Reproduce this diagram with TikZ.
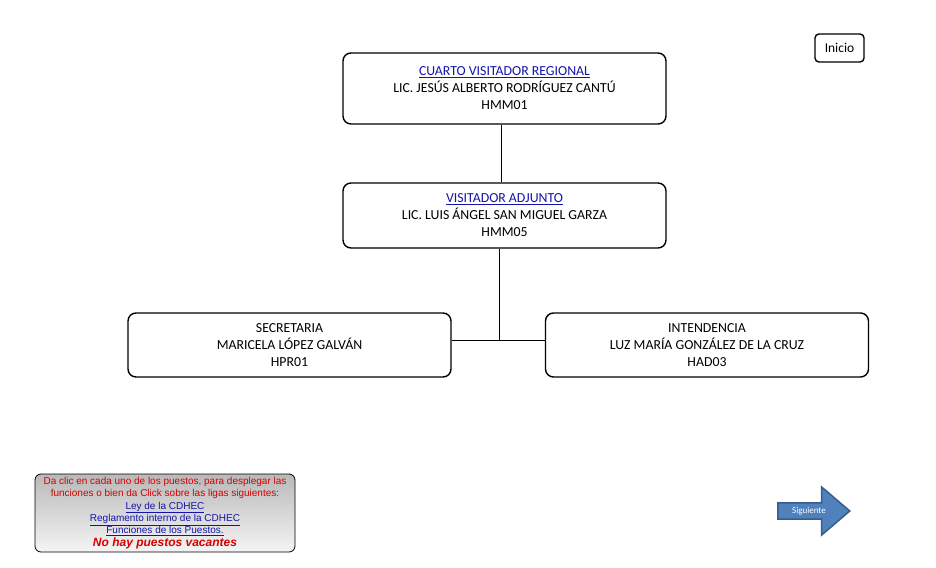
\documentclass[tikz,border=0pt]{standalone}
\usepackage{fontspec}
\setmainfont{Carlito}
\newfontfamily\notefont{Liberation Sans}
\usetikzlibrary{shapes.arrows}
\definecolor{linkblue}{RGB}{20,20,170}
\definecolor{notered}{RGB}{215,0,0}
\definecolor{arrowfill}{RGB}{79,129,189}
\definecolor{arrowline}{RGB}{56,93,138}
\tikzset{
  puesto/.style={draw, line width=1.4pt, rounded corners=8pt, minimum width=323pt,
    align=center, inner sep=0pt, font=\fontsize{13.8}{17}\selectfont},
  liga/.style={draw, line width=1.4pt, rounded corners=4pt, minimum width=49pt,
    minimum height=28pt, inner sep=0pt, font=\fontsize{13.5}{15}\selectfont},
}
\newcommand{\enlace}[1]{\textcolor{linkblue}{\underline{#1}}}
\begin{document}
\begin{tikzpicture}[x=1pt,y=-1pt]
            \useasboundingbox (0,0) rectangle (936,567);
            \node[puesto, minimum height=71pt] (cuarto) at (504.5,88.5)
                {\enlace{CUARTO VISITADOR REGIONAL}\\LIC. JESÚS ALBERTO RODRÍGUEZ CANTÚ\\HMM01};
            \node[puesto, minimum height=65pt] (adjunto) at (504.5,215.5)
                {\enlace{VISITADOR ADJUNTO}\\LIC. LUIS ÁNGEL SAN MIGUEL GARZA\\HMM05};
            \node[puesto, minimum height=64pt] (secre) at (289.5,345)
                {SECRETARIA\\MARICELA LÓPEZ GALVÁN\\HPR01};
            \node[puesto, minimum height=64pt] (inten) at (707,345)
                {INTENDENCIA\\LUZ MARÍA GONZÁLEZ DE LA CRUZ\\HAD03};
            \node[liga] (inicio) at (839.5,48) {Inicio};
            \coordinate (union) at (499,340);
            \coordinate (eje) at (501,0);
            \draw (cuarto.south -| eje) -- (adjunto.north -| eje);
            \draw (adjunto.south -| union) -- (union);
            \draw (secre.east |- union) -- (inten.west |- union);
            \node[draw, line width=0.8pt, rounded corners=6pt, minimum width=260pt,
                minimum height=78pt, top color=gray!55, bottom color=gray!8,
                align=center, inner sep=0pt, font=\notefont\fontsize{10}{12.4}\selectfont] (nota) at (165,513)
                {\textcolor{notered}{Da clic en cada uno de los puestos, para desplegar las}\\
                 \textcolor{notered}{funciones o bien da Click sobre las ligas siguientes:}\\
                 \enlace{Ley de la CDHEC}\\
                 \enlace{Reglamento interno de la CDHEC}\\
                 \enlace{Funciones de los Puestos.}\\
                 \textcolor{notered}{\fontsize{12}{12.4}\selectfont\bfseries\itshape No hay puestos vacantes}};
            \node[single arrow, draw=arrowline, line width=1.5pt, fill=arrowfill,
                minimum height=72pt, minimum width=48pt, single arrow head extend=9pt,
                single arrow tip angle=81, inner sep=0pt, text=white,
                font=\fontsize{9}{10}\selectfont] (siguiente) at (809,511) {Siguiente\hspace{12pt}};
\end{tikzpicture}
\end{document}
